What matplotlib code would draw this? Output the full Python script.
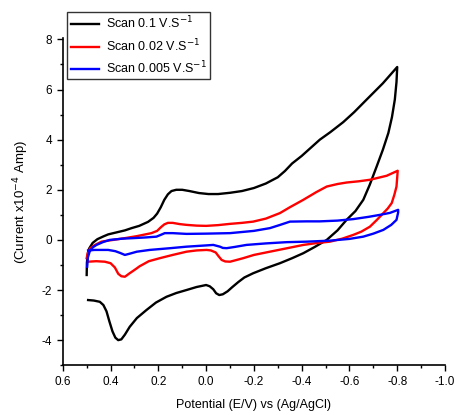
import numpy as np
import matplotlib
matplotlib.use('Agg')
import matplotlib.pyplot as plt
from matplotlib.ticker import MultipleLocator

plt.rcParams['font.family'] = ['Liberation Sans', 'DejaVu Sans']

## 数据 (E / V, I / 1e-4 A)
scan_labels = ['Scan 0.1 V.S$^{-1}$', 'Scan 0.02 V.S$^{-1}$', 'Scan 0.005 V.S$^{-1}$']
scan_colors = ['black', 'red', 'blue']

e_01 = [0.5, 0.499, 0.495, 0.49, 0.475, 0.455, 0.43, 0.41, 0.375, 0.34, 0.312, 0.28, 0.243,
        0.22, 0.205, 0.19, 0.175, 0.16, 0.145, 0.125, 0.1, 0.07, 0.03, -0.01, -0.05, -0.1,
        -0.15, -0.2, -0.25, -0.3, -0.33, -0.36, -0.4, -0.476, -0.52, -0.574, -0.62, -0.672,
        -0.74, -0.8,
        -0.797, -0.79, -0.778, -0.763, -0.74, -0.714, -0.685, -0.658, -0.625, -0.588, -0.55,
        -0.505, -0.455, -0.407, -0.36, -0.309, -0.25, -0.197, -0.16, -0.135, -0.11, -0.09,
        -0.07, -0.055, -0.042, -0.03, -0.015, 0.0, 0.04, 0.082, 0.125, 0.166, 0.21, 0.25,
        0.29, 0.32, 0.34, 0.355, 0.368, 0.38, 0.392, 0.405, 0.417, 0.43, 0.445, 0.47, 0.494]
i_01 = [-1.4, -0.9, -0.55, -0.35, -0.12, 0.03, 0.14, 0.22, 0.3, 0.38, 0.47, 0.56, 0.72,
        0.88, 1.05, 1.3, 1.6, 1.82, 1.95, 2.0, 2.0, 1.95, 1.87, 1.83, 1.83, 1.88,
        1.95, 2.07, 2.25, 2.5, 2.75, 3.05, 3.35, 4.0, 4.3, 4.7, 5.1, 5.6,
        6.25, 6.9,
        6.3, 5.6, 4.9, 4.27, 3.6, 2.93, 2.2, 1.6, 1.15, 0.8, 0.38,
        0.0, -0.28, -0.53, -0.73, -0.93, -1.13, -1.33, -1.5, -1.68, -1.88, -2.05,
        -2.17, -2.2, -2.13, -1.97, -1.85, -1.8, -1.88, -2.0, -2.12, -2.27, -2.5, -2.8,
        -3.12, -3.47, -3.78, -3.97, -4.0, -3.9, -3.65, -3.25, -2.85, -2.6, -2.47, -2.42, -2.4]

e_002 = [0.5, 0.495, 0.485, 0.465, 0.438, 0.39, 0.34, 0.29, 0.229, 0.205, 0.19, 0.175, 0.16,
         0.14, 0.11, 0.082, 0.04, 0.0, -0.05, -0.1, -0.15, -0.197, -0.25, -0.309, -0.35,
         -0.407, -0.46, -0.505, -0.55, -0.588, -0.64, -0.686, -0.756, -0.802,
         -0.8, -0.797, -0.788, -0.777, -0.76, -0.742, -0.715, -0.686, -0.65, -0.616, -0.57,
         -0.518, -0.46, -0.407, -0.34, -0.267, -0.2, -0.155, -0.12, -0.1, -0.08, -0.065,
         -0.052, -0.04, -0.02, -0.002, 0.04, 0.082, 0.14, 0.194, 0.24, 0.278, 0.3, 0.32,
         0.34, 0.355, 0.368, 0.382, 0.4, 0.424, 0.46, 0.494]
i_002 = [-0.73, -0.5, -0.33, -0.2, -0.07, 0.0, 0.07, 0.15, 0.27, 0.36, 0.5, 0.62, 0.68,
         0.68, 0.63, 0.6, 0.57, 0.56, 0.59, 0.64, 0.68, 0.73, 0.85, 1.07, 1.3,
         1.6, 1.9, 2.13, 2.23, 2.29, 2.34, 2.4, 2.56, 2.76,
         2.5, 2.13, 1.8, 1.47, 1.25, 1.07, 0.8, 0.53, 0.33, 0.2, 0.05,
         -0.07, -0.13, -0.2, -0.33, -0.47, -0.6, -0.73, -0.82, -0.87, -0.86, -0.8,
         -0.65, -0.5, -0.42, -0.4, -0.42, -0.47, -0.6, -0.73, -0.85, -1.05, -1.2, -1.33,
         -1.47, -1.45, -1.35, -1.1, -0.93, -0.87, -0.85, -0.87]

e_0005 = [0.498, 0.495, 0.487, 0.475, 0.459, 0.43, 0.403, 0.35, 0.306, 0.25, 0.208, 0.19,
          0.173, 0.14, 0.082, 0.0, -0.1, -0.2, -0.267, -0.31, -0.351, -0.42, -0.476, -0.55,
          -0.616, -0.68, -0.728, -0.77, -0.804,
          -0.804, -0.797, -0.775, -0.742, -0.7, -0.658, -0.6, -0.518, -0.42, -0.337, -0.25,
          -0.169, -0.12, -0.086, -0.07, -0.058, -0.03, 0.0, 0.082, 0.15, 0.236, 0.29, 0.32,
          0.34, 0.36, 0.38, 0.41, 0.466, 0.494]
i_0005 = [-1.07, -0.7, -0.45, -0.3, -0.2, -0.08, 0.0, 0.05, 0.07, 0.1, 0.13, 0.2,
          0.27, 0.27, 0.24, 0.25, 0.27, 0.36, 0.47, 0.6, 0.73, 0.74, 0.74, 0.77,
          0.83, 0.92, 1.0, 1.08, 1.2,
          1.1, 0.8, 0.6, 0.4, 0.25, 0.13, 0.04, -0.03, -0.07, -0.09, -0.14,
          -0.2, -0.28, -0.33, -0.32, -0.27, -0.2, -0.22, -0.27, -0.33, -0.4, -0.47, -0.55,
          -0.6, -0.52, -0.45, -0.4, -0.4, -0.42]

x_ticks = [0.6, 0.4, 0.2, 0.0, -0.2, -0.4, -0.6, -0.8, -1.0]
x_ticklabels = ['0.6', '0.4', '0.2', '0.0', '-0.2', '-0.4', '-0.6', '-0.8', '-1.0']
y_ticks = [-4, -2, 0, 2, 4, 6, 8]
y_ticklabels = ['-4', '-2', '0', '2', '4', '6', '8']

## 画图
fig = plt.figure(figsize=(4.55, 4.15), dpi=100)
ax = fig.add_axes([0.138, 0.12, 0.84, 0.788])

for e, i, lab, c in zip([e_01, e_002, e_0005], [i_01, i_002, i_0005], scan_labels, scan_colors):
    ax.plot(e, i, color=c, linewidth=1.7, label=lab, solid_joinstyle='round')

ax.set_xlim(0.6, -1.0)
ax.set_ylim(-5, 8.05)
ax.set_xticks(x_ticks)
ax.set_xticklabels(x_ticklabels)
ax.set_yticks(y_ticks)
ax.set_yticklabels(y_ticklabels)
ax.xaxis.set_minor_locator(MultipleLocator(0.1))
ax.yaxis.set_minor_locator(MultipleLocator(1))
ax.tick_params(which='major', direction='out', length=4, width=1, labelsize=8.5)
ax.tick_params(which='minor', direction='out', length=2.5, width=1)
ax.spines['top'].set_visible(False)
ax.spines['right'].set_visible(False)
ax.spines['left'].set_linewidth(1.2)
ax.spines['bottom'].set_linewidth(1.2)

ax.set_xlabel('Potential (E/V) vs (Ag/AgCl)', fontsize=9, labelpad=8)
ax.set_ylabel('(Current x10$^{-4}$ Amp)', fontsize=9.5, labelpad=8)

leg = ax.legend(loc='upper left', bbox_to_anchor=(0.012, 1.08), fontsize=9,
                frameon=True, fancybox=False, edgecolor='black', handlelength=2.3,
                borderpad=0.25, labelspacing=0.45, handletextpad=0.5, borderaxespad=0)
leg.get_frame().set_linewidth(1)

plt.savefig('out.png', dpi=100)
